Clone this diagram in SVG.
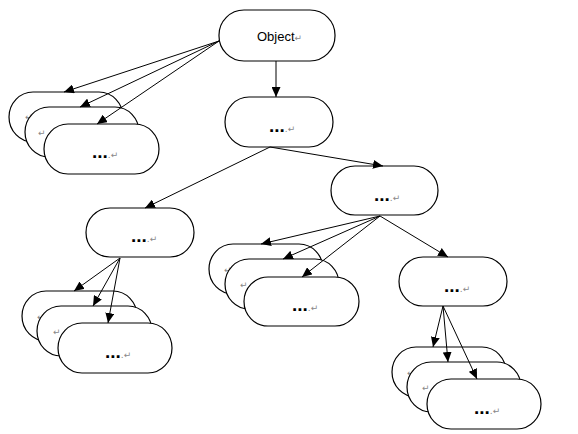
<svg xmlns="http://www.w3.org/2000/svg" width="578" height="434" viewBox="0 0 578 434">
<style>
.n{fill:#fff;stroke:#000;stroke-width:1.2}
.t{font-family:"Liberation Sans",Arial,sans-serif;font-size:13px;fill:#000}
.d{font-family:"Liberation Sans",Arial,sans-serif;font-size:19px;font-weight:bold;fill:#000}
.m{font-family:"DejaVu Sans",sans-serif;font-size:9px;font-weight:normal;fill:#888}
.e{stroke:#000;stroke-width:1;fill:none;marker-end:url(#a)}
</style>
<defs>
<marker id="a" markerUnits="userSpaceOnUse" markerWidth="11" markerHeight="9" refX="10" refY="4.5" orient="auto">
<path d="M0,0 L10,4.5 L0,9 z" fill="#000"/>
</marker>
</defs>
<rect width="578" height="434" fill="#fff"/>
<g id="object"><rect class="n" x="219" y="10" width="116" height="51" rx="25" ry="25"/><text class="t" x="257" y="41">Object<tspan class="m">↵</tspan></text></g>
<g id="n2"><rect class="n" x="225" y="97" width="108" height="50" rx="24" ry="25"/><text class="d" x="269" y="132">...<tspan class="m" font-size="7">.↵</tspan></text></g>
<g id="stackA">
<rect class="n" x="9" y="92" width="114" height="50" rx="24" ry="25"/><text class="m" x="25" y="120">↵</text>
<rect class="n" x="25" y="107" width="114" height="50" rx="24" ry="25"/><text class="m" x="38" y="136">↵</text>
<rect class="n" x="44" y="124" width="115" height="50" rx="24" ry="25"/><text class="d" x="92" y="158">...<tspan class="m" font-size="7">.↵</tspan></text>
</g>
<g id="n3"><rect class="n" x="86" y="208" width="108" height="49" rx="24" ry="25"/><text class="d" x="131" y="242">...<tspan class="m" font-size="7">.↵</tspan></text></g>
<g id="stackB">
<rect class="n" x="22" y="291" width="115" height="50" rx="24" ry="25"/><text class="m" x="37" y="320">↵</text>
<rect class="n" x="37" y="306" width="115" height="50" rx="24" ry="25"/><text class="m" x="53" y="335">↵</text>
<rect class="n" x="58" y="323" width="114" height="50" rx="24" ry="25"/><text class="d" x="105" y="358">...<tspan class="m" font-size="7">.↵</tspan></text>
</g>
<g id="n4"><rect class="n" x="331" y="166" width="107" height="49" rx="24" ry="25"/><text class="d" x="374" y="201">...<tspan class="m" font-size="7">.↵</tspan></text></g>
<g id="stackC">
<rect class="n" x="209" y="244" width="114" height="50" rx="24" ry="25"/><text class="m" x="224" y="273">↵</text>
<rect class="n" x="225" y="259" width="114" height="50" rx="24" ry="25"/><text class="m" x="240" y="288">↵</text>
<rect class="n" x="244" y="277" width="115" height="49" rx="24" ry="25"/><text class="d" x="292" y="311">...<tspan class="m" font-size="7">.↵</tspan></text>
</g>
<g id="n5"><rect class="n" x="399" y="257" width="108" height="49" rx="24" ry="25"/><text class="d" x="444" y="292">...<tspan class="m" font-size="7">.↵</tspan></text></g>
<g id="stackD">
<rect class="n" x="392" y="347" width="114" height="50" rx="24" ry="25"/><text class="m" x="407" y="376">↵</text>
<rect class="n" x="407" y="362" width="114" height="50" rx="24" ry="25"/><text class="m" x="422" y="391">↵</text>
<rect class="n" x="427" y="379" width="114" height="50" rx="24" ry="25"/><text class="d" x="474" y="414">...<tspan class="m" font-size="7">.↵</tspan></text>
</g>
<g id="connectors">
<line class="e" x1="219" y1="41" x2="64" y2="92"/>
<line class="e" x1="219" y1="41" x2="80" y2="107"/>
<line class="e" x1="219" y1="41" x2="97" y2="124"/>
<line class="e" x1="276" y1="61" x2="276" y2="97"/>
<line class="e" x1="270" y1="147" x2="145" y2="208"/>
<line class="e" x1="270" y1="147" x2="383" y2="166"/>
<line class="e" x1="120" y1="258" x2="74" y2="291"/>
<line class="e" x1="120" y1="258" x2="93" y2="306"/>
<line class="e" x1="120" y1="258" x2="108" y2="323"/>
<line class="e" x1="380" y1="216" x2="261" y2="244"/>
<line class="e" x1="380" y1="216" x2="283" y2="259"/>
<line class="e" x1="380" y1="216" x2="302" y2="277"/>
<line class="e" x1="380" y1="216" x2="448" y2="257"/>
<line class="e" x1="443" y1="306" x2="433" y2="347"/>
<line class="e" x1="443" y1="306" x2="448" y2="362"/>
<line class="e" x1="443" y1="306" x2="477" y2="379"/>
</g>
</svg>
